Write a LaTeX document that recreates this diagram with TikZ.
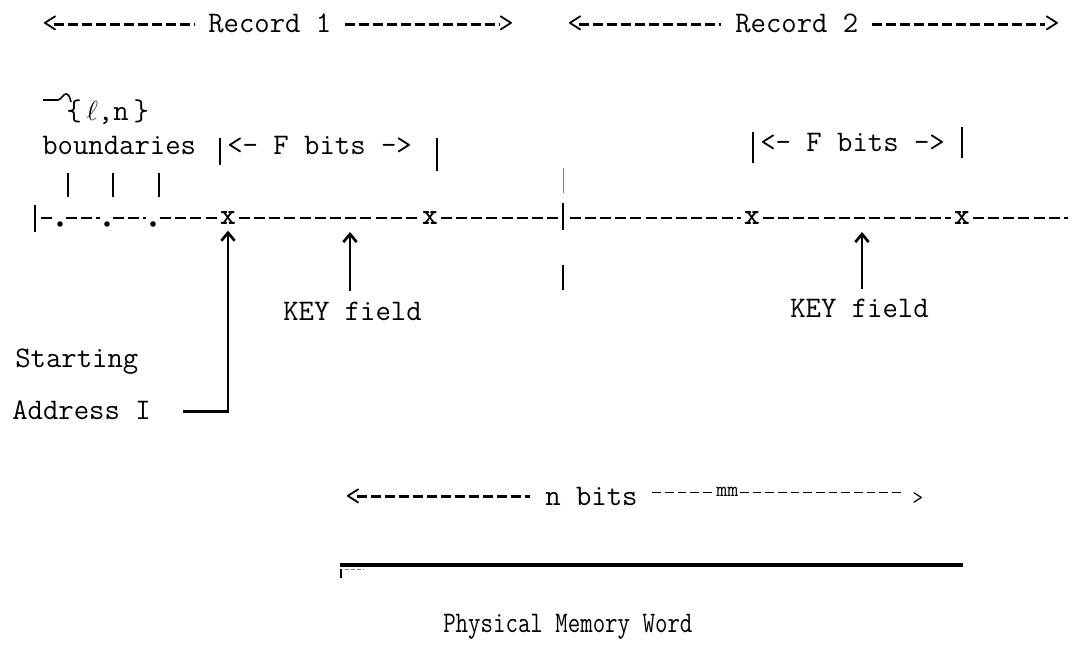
\documentclass[tikz,border=0pt]{standalone}
\usepackage{fontspec}
\usepackage{amsmath}
\usepackage{tikz}
\usetikzlibrary{arrows.meta}
\newcommand{\typeFont}{\ttfamily\fontsize{22.4}{26}\selectfont}
\newcommand{\drawBar}[3]{
\draw [line width=1.7pt] (#1,#2) -- (#1,#3);
}
\newcommand{\drawDot}[2]{
\fill (#1,#2) circle (2.8);
}
\newcommand{\drawTick}[1]{
\draw [line width=1.5pt] (#1,173) -- (#1,197);
}

\begin{document}
\begin{tikzpicture}[x=0.75pt,y=-0.75pt,
  typed/.style={font=\typeFont,inner sep=0pt,anchor=base west,text height=12.5pt,text depth=0pt},
  xmark/.style={font=\typeFont\bfseries,inner sep=0pt,text height=9.6pt,text depth=0pt},
  recdash/.style={line width=2.1pt,dash pattern=on 7.5pt off 3pt},
  worddash/.style={line width=1.8pt,dash pattern=on 8.2pt off 3.2pt},
  thindash/.style={line width=0.9pt,dash pattern=on 6.5pt off 3pt},
  ptr/.style={line width=2pt,-{Straight Barb[length=6pt,width=10pt,line width=2pt]}}]
\useasboundingbox (0,0) rectangle (1072,645);
%
\node[typed] (r1open) at (42,33) {<};
\node[typed] (rec1) at (208,33) {Record 1};
\node[typed] (r1close) at (498,33) {>};
\node[typed] (r2open) at (567,33) {<};
\node[typed] (rec2) at (735,33) {Record 2};
\node[typed] (r2close) at (1044,33) {>};
\draw[recdash,shorten <=-3pt,shorten >=10.5pt] (r1open.east) -- (rec1.west);
\draw[recdash,shorten <=10pt,shorten >=-1pt] (rec1.east) -- (r1close.west);
\draw[recdash,shorten <=-3pt,shorten >=10.5pt] (r2open.east) -- (rec2.west);
\draw[recdash,shorten <=10pt,shorten >=-1pt] (rec2.east) -- (r2close.west);
%
\draw[line width=1.2pt] (43,100) -- (58,100) .. controls (62,99) and (63,94) .. (66,94) .. controls (69,94) and (70,98) .. (71,102);
\node[typed] (elln) at (66,121) {\{\,$\ell$,n\,\}};
\node[typed] (bnd) at (42,155) {boundaries};
\node[typed] (fbits1) at (227,155) {<- F bits ->};
\drawBar{220}{138}{165}
\drawBar{437}{138}{171}
\node[typed] (fbits2) at (760,152) {<- F bits ->};
\drawBar{753}{132}{163}
\drawBar{962}{127}{158}
\drawTick{68}
\drawTick{113}
\drawTick{159}
%
\drawBar{35}{205}{232}
\node[xmark] (x1) at (228,218) {x};
\node[xmark] (x2) at (430,218) {x};
\node[xmark] (x3) at (752,218) {x};
\node[xmark] (x4) at (962,218) {x};
\coordinate (sep) at (563,218);
\coordinate (wend) at (1068,218);
\drawDot{60}{224}
\drawDot{107}{224}
\drawDot{153}{224}
\draw[worddash] (41,218) -- (53,218);
\draw[worddash] (66,218) -- (100,218);
\draw[worddash] (113,218) -- (146,218);
\draw[worddash,shorten >=2pt] (160,218) -- (x1.west);
\draw[worddash,shorten <=2pt,shorten >=2pt] (x1.east) -- (x2.west);
\draw[worddash,shorten <=2pt,shorten >=4pt] (x2.east) -- (sep);
\draw[worddash,shorten <=5pt,shorten >=2pt] (sep) -- (x3.west);
\draw[worddash,shorten <=2pt,shorten >=2pt] (x3.east) -- (x4.west);
\draw[worddash,shorten <=2pt] (x4.east) -- (wend);
\drawBar{563}{203}{230}
\draw[gray,line width=0.6pt] (563,168) -- (563,193);
\drawBar{563}{265}{290}
%
\node[typed] (start) at (15,368) {Starting};
\node[typed] (addr) at (12,420) {Address I};
\draw[ptr,shorten <=24pt,shorten >=4.5pt] (addr.east) -| (x1.south);
\node[typed] (key1) at (283,321) {KEY field};
\coordinate (k1) at (350,218);
\draw[ptr,shorten <=9.75pt,shorten >=10.5pt] (key1.north -| k1) -- (k1);
\node[typed] (key2) at (790,318) {KEY field};
\coordinate (k2) at (862,218);
\draw[ptr,shorten <=9pt,shorten >=10.5pt] (key2.north -| k2) -- (k2);
%
\node[typed] (nopen) at (345,505) {<};
\node[typed] (nbits) at (545,505) {n bits};
\node[font=\ttfamily\fontsize{16}{18}\selectfont,inner sep=0pt,anchor=base west] (mm) at (716,497) {mm};
\node[font=\ttfamily\fontsize{16}{18}\selectfont,inner sep=0pt,anchor=base west] (nclose) at (912,504) {>};
\draw[recdash,shorten <=-3pt,shorten >=11pt] (nopen.east) -- (nbits.west);
\draw[thindash,shorten <=11pt,shorten >=1pt] (nbits.east |- mm.west) -- (mm.west);
\draw[thindash,shorten <=1pt,shorten >=6pt] (mm.east) -- (nclose.west |- mm.east);
%
\coordinate (mw0) at (340,565);
\coordinate (mw1) at (963,565);
\draw[line width=3pt] (mw0) -- (mw1);
\draw[line width=0.8pt] (341,569) -- (341,578);
\draw[gray,line width=0.6pt,dash pattern=on 3pt off 1.5pt] (345,569) -- (364,569);
\node[typed] (pmw) at (443,632) {\scalebox{0.81}[1]{Physical Memory Word}};
\end{tikzpicture}
\end{document}
